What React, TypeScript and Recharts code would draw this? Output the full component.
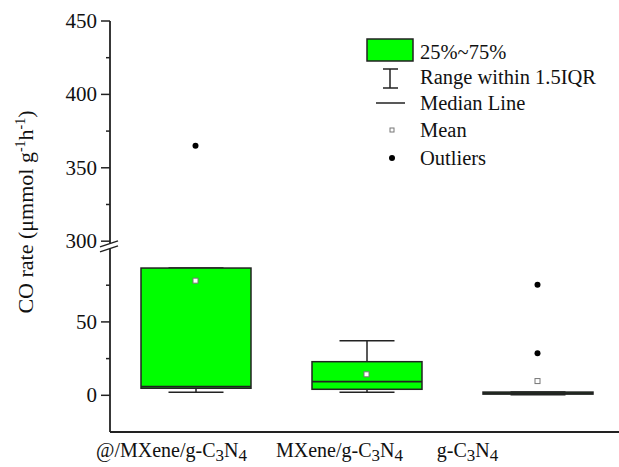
import React from 'react';
import { ComposedChart, Bar, Line, XAxis, YAxis, Legend } from 'recharts';

// box statistics per sample (µmmol g-1 h-1)
const CATEGORIES = ['@/MXene/g-C3N4', 'MXene/g-C3N4', 'g-C3N4'];
const WHISKER_LOW = [2.0, 2.0, 0.3];
const Q1 = [4.8, 4.1, 0.8];
const MEDIAN = [5.9, 9.3, 1.5];
const Q3 = [86.7, 22.9, 2.2];
const WHISKER_HIGH = [86.7, 37.2, 2.2];
const MEAN = [78.1, 14.3, 9.7];
const OUTLIER_1 = [365, null, 75.4];
const OUTLIER_2 = [null, null, 28.6];

const Y_MAJOR = [0, 50, 300, 350, 400, 450];
const Y_MINOR = [25, 75, 325, 375, 425];

// axis break: everything above BREAK_TOP jumps to BREAK_RESUME
const BREAK_TOP = 100;
const BREAK_RESUME = 300;
const BREAK_GAP = 5;
const SHIFT = BREAK_RESUME - BREAK_TOP - BREAK_GAP;
const toAxis = (v: number) => (v <= BREAK_TOP ? v : v - SHIFT);
const fromAxis = (a: number) => (a <= BREAK_TOP ? a : a + SHIFT);
const BREAK_MARK = BREAK_TOP + BREAK_GAP / 2;

const LABEL_SHIFT = [-24, -27, -70];
const FONT = 'Liberation Serif, Times New Roman, serif';
const INK = '#222';

const data = CATEGORIES.map((name, i) => ({
  name,
  box: [toAxis(Q1[i]), toAxis(Q3[i])],
  low: toAxis(WHISKER_LOW[i]),
  q1: toAxis(Q1[i]),
  med: toAxis(MEDIAN[i]),
  q3: toAxis(Q3[i]),
  high: toAxis(WHISKER_HIGH[i]),
  mean: toAxis(MEAN[i]),
  out1: OUTLIER_1[i] == null ? null : toAxis(OUTLIER_1[i] as number),
  out2: OUTLIER_2[i] == null ? null : toAxis(OUTLIER_2[i] as number),
}));

const majorAxis = Y_MAJOR.map(toAxis);
const yTicks = [...Y_MAJOR, ...Y_MINOR].map(toAxis).concat(BREAK_MARK).sort((a, b) => a - b);

const BoxShape = (props: any) => {
  const { x, y, width, height, payload } = props;
  const top = Math.min(y, y + height);
  const h = Math.abs(height);
  const span = payload.q3 - payload.q1;
  // pixel for a value, from the bar's own q1..q3 geometry
  const py = (v: number) => (span > 0 ? top + (h * (payload.q3 - v)) / span : top);
  const cx = x + width / 2;
  const cap = width / 4;
  return (
    <g>
      <line x1={cx} x2={cx} y1={py(payload.high)} y2={py(payload.q3)} stroke={INK} strokeWidth={1.5} />
      <line x1={cx} x2={cx} y1={py(payload.q1)} y2={py(payload.low)} stroke={INK} strokeWidth={1.5} />
      <line x1={cx - cap} x2={cx + cap} y1={py(payload.high)} y2={py(payload.high)} stroke={INK} strokeWidth={1.5} />
      <line x1={cx - cap} x2={cx + cap} y1={py(payload.low)} y2={py(payload.low)} stroke={INK} strokeWidth={1.5} />
      <rect x={x} y={top} width={width} height={h} fill="#00ff00" stroke={INK} strokeWidth={1.5} />
      <line x1={x} x2={x + width} y1={py(payload.med)} y2={py(payload.med)} stroke={INK} strokeWidth={1.8} />
    </g>
  );
};

const MeanDot = (props: any) => {
  const { cx, cy, index } = props;
  if (cy == null || isNaN(cy)) return <g key={`m${index}`} />;
  return <rect key={`m${index}`} x={cx - 2.5} y={cy - 2.5} width={5} height={5} fill="#fff" stroke="#777" strokeWidth={1} />;
};

const OutlierDot = (props: any) => {
  const { cx, cy, index } = props;
  if (cy == null || isNaN(cy)) return <g key={`o${index}`} />;
  return <circle key={`o${index}`} cx={cx} cy={cy} r={3} fill="#000" />;
};

const YTick = (props: any) => {
  const { x, y, payload } = props;
  const v = payload.value;
  if (v === BREAK_MARK) {
    return (
      <g>
        <polygon points={`${x - 10},${y + 2} ${x + 8},${y - 4} ${x + 8},${y + 1} ${x - 10},${y + 7}`} fill="#fff" />
        <line x1={x - 10} y1={y + 2} x2={x + 8} y2={y - 4} stroke={INK} strokeWidth={1.5} />
        <line x1={x - 10} y1={y + 7} x2={x + 8} y2={y + 1} stroke={INK} strokeWidth={1.5} />
      </g>
    );
  }
  const major = majorAxis.includes(v);
  return (
    <g>
      <line x1={x - (major ? 9 : 4)} x2={x} y1={y} y2={y} stroke={INK} strokeWidth={1.5} />
      {major && (
        <text x={x - 13} y={y + 7} textAnchor="end" fontSize={21} fontFamily={FONT} fill="#111">
          {fromAxis(v)}
        </text>
      )}
    </g>
  );
};

const XTick = (props: any) => {
  const { x, y, payload, index } = props;
  const parts = String(payload.value).split(/(\d)/).filter(Boolean);
  let sub = false;
  return (
    <text x={x + LABEL_SHIFT[index]} y={y + 25} textAnchor="middle" fontSize={20} fontFamily={FONT} fill="#111">
      {parts.map((p, k) => {
        const isSub = /^\d$/.test(p);
        const dy = isSub && !sub ? 4 : !isSub && sub ? -4 : 0;
        sub = isSub;
        return (
          <tspan key={k} dy={dy} fontSize={isSub ? 17 : 20}>
            {p}
          </tspan>
        );
      })}
    </text>
  );
};

const YLabel = () => (
  <text x={33} y={212} transform="rotate(-90, 33, 212)" textAnchor="middle" fontSize={22} fontFamily={FONT} fill="#111">
    CO rate (μmmol g
    <tspan dy={-8} fontSize={14}>-1</tspan>
    <tspan dy={8}>h</tspan>
    <tspan dy={-8} fontSize={14}>-1</tspan>
    <tspan dy={8}>)</tspan>
  </text>
);

const LegendBox = () => (
  <svg width={260} height={140} style={{ display: 'block' }}>
    <rect x={7} y={3} width={46} height={22} fill="#00ff00" stroke={INK} strokeWidth={1.5} />
    <line x1={30} x2={30} y1={33} y2={52} stroke={INK} strokeWidth={1.5} />
    <line x1={23} x2={38} y1={33} y2={33} stroke={INK} strokeWidth={1.5} />
    <line x1={23} x2={38} y1={52} y2={52} stroke={INK} strokeWidth={1.5} />
    <line x1={16} x2={45} y1={67} y2={67} stroke={INK} strokeWidth={1.5} />
    <rect x={30} y={92} width={4} height={4} fill="#fff" stroke="#777" strokeWidth={1} />
    <circle cx={32} cy={122} r={3} fill="#000" />
    <g fontSize={20.5} fontFamily={FONT} fill="#111">
      <text x={60} y={23}>25%~75%</text>
      <text x={60} y={48}>Range within 1.5IQR</text>
      <text x={60} y={74}>Median Line</text>
      <text x={60} y={101}>Mean</text>
      <text x={60} y={129}>Outliers</text>
    </g>
  </svg>
);

export default function App() {
  return (
    <div style={{ position: 'absolute', left: 0, top: 0, width: 619, height: 467, overflow: 'hidden', background: '#fff' }}>
      <ComposedChart width={640} height={467} data={data} margin={{ top: 21, right: 17, bottom: 0, left: 0 }}>
        <XAxis
          dataKey="name"
          height={35}
          tickLine={false}
          tickSize={0}
          tickMargin={0}
          axisLine={{ stroke: INK, strokeWidth: 1.8 }}
          tick={<XTick />}
          interval={0}
        />
        <XAxis xAxisId="top" orientation="top" dataKey="name" height={0} tick={false} tickLine={false} axisLine={{ stroke: INK, strokeWidth: 1.8 }} />
        <YAxis
          type="number"
          width={110}
          domain={[-25, 255]}
          allowDataOverflow
          ticks={yTicks}
          interval={0}
          tickSize={0}
          tickMargin={0}
          tickLine={false}
          axisLine={{ stroke: INK, strokeWidth: 1.8 }}
          tick={<YTick />}
          label={<YLabel />}
        />
        <Bar dataKey="box" barSize={110} shape={BoxShape} isAnimationActive={false} legendType="none" />
        <Line dataKey="mean" stroke="none" dot={MeanDot} activeDot={false} isAnimationActive={false} legendType="none" />
        <Line dataKey="out1" stroke="none" dot={OutlierDot} activeDot={false} isAnimationActive={false} legendType="none" />
        <Line dataKey="out2" stroke="none" dot={OutlierDot} activeDot={false} isAnimationActive={false} legendType="none" />
        <Legend
          layout="vertical"
          align="center"
          verticalAlign="middle"
          wrapperStyle={{ left: 360, top: 36, width: 260, height: 140 }}
          content={() => <LegendBox />}
        />
      </ComposedChart>
    </div>
  );
}
